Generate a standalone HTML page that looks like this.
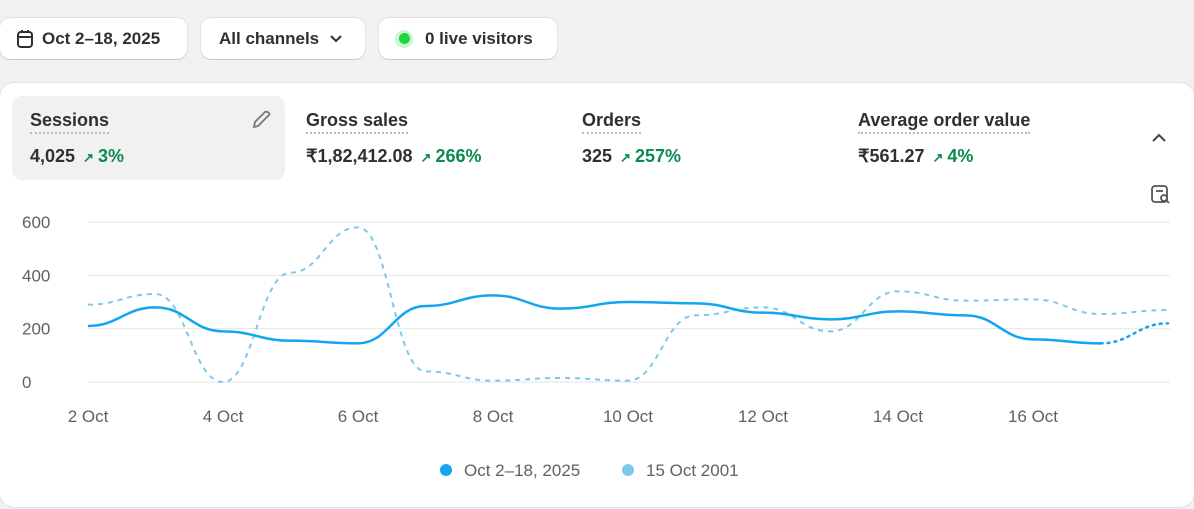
<!DOCTYPE html>
<html><head><meta charset="utf-8"><style>
*{box-sizing:border-box;margin:0;padding:0}
body{width:1194px;height:509px;background:#f1f1f1;font-family:"Liberation Sans",sans-serif;color:#303030;position:relative;overflow:hidden}
.btn{position:absolute;top:18px;height:41px;background:#fff;border-radius:10px;box-shadow:0 1px 0 #c8c8c8,0 0 0 1px #e3e3e3;font-size:17px;font-weight:bold;display:flex;align-items:center;padding-left:16px}
.card{position:absolute;left:0;top:83px;width:1194px;height:424px;background:#fff;border-radius:14px;box-shadow:0 0 0 1px #e3e3e3}
.tab{position:absolute;top:13px;height:84px}
.tab .t{position:absolute;left:18px;top:14px;font-size:18px;font-weight:bold;color:#303030;border-bottom:2px dotted #bbb;padding-bottom:1px}
.tab .v{position:absolute;left:18px;top:50px;font-size:18px;font-weight:bold;white-space:nowrap}
.up{color:#0c8a4f;font-weight:bold;margin-left:8px}
.up small{font-size:13px;margin-right:4px}
</style></head><body>
<div class="btn" style="left:0;width:187px">
<svg width="18" height="20" viewBox="0 0 18 20" style="margin-right:8px"><rect x="2" y="3" width="14" height="15" rx="3" fill="none" stroke="#303030" stroke-width="2"/><line x1="2" y1="8" x2="16" y2="8" stroke="#303030" stroke-width="2"/><line x1="6" y1="1" x2="6" y2="4" stroke="#303030" stroke-width="2"/><line x1="12" y1="1" x2="12" y2="4" stroke="#303030" stroke-width="2"/></svg>Oct 2–18, 2025</div>
<div class="btn" style="left:201px;width:164px;padding-left:18px">All channels<svg width="14" height="10" style="margin-left:10px"><path d="M2 2 L7 7 L12 2" fill="none" stroke="#303030" stroke-width="2"/></svg></div>
<div class="btn" style="left:379px;width:178px"><span style="width:18px;height:18px;border-radius:50%;background:#c9f5d5;display:inline-flex;align-items:center;justify-content:center;margin-right:12px"><span style="width:11px;height:11px;border-radius:50%;background:#22d63a"></span></span>0 live visitors</div>
<div class="card">
<div class="tab" style="left:12px;width:273px;background:#f1f1f1;border-radius:10px"><span class="t">Sessions</span><span class="v">4,025<span class="up"><small>↗</small>3%</span></span>
<svg width="22" height="22" viewBox="0 0 22 22" style="position:absolute;left:238px;top:13px"><path d="M4 18 L5 13 L15 3 Q17 2 19 4 Q20 6 18 7 L8 17 Z" fill="none" stroke="#777" stroke-width="1.8"/></svg></div>
<div class="tab" style="left:288px;width:270px"><span class="t">Gross sales</span><span class="v">₹1,82,412.08<span class="up"><small>↗</small>266%</span></span></div>
<div class="tab" style="left:564px;width:270px"><span class="t">Orders</span><span class="v">325<span class="up"><small>↗</small>257%</span></span></div>
<div class="tab" style="left:840px;width:270px"><span class="t">Average order value</span><span class="v">₹561.27<span class="up"><small>↗</small>4%</span></span></div>
<svg width="16" height="10" style="position:absolute;left:1151px;top:50px"><path d="M2 8 L8 2 L14 8" fill="none" stroke="#444" stroke-width="2"/></svg>
<svg width="22" height="22" viewBox="0 0 22 22" style="position:absolute;left:1150px;top:101px"><rect x="2" y="2" width="15" height="16" rx="3" fill="none" stroke="#555" stroke-width="1.8"/><line x1="6" y1="7" x2="13" y2="7" stroke="#555" stroke-width="1.8"/><circle cx="14" cy="14" r="3" fill="#fff" stroke="#555" stroke-width="1.8"/><line x1="16" y1="16" x2="19" y2="19" stroke="#555" stroke-width="1.8"/></svg>
</div>
<svg id="chart" width="1194" height="509" style="position:absolute;left:0;top:0"></svg>
<script>
const days=[2,3,4,5,6,7,8,9,10,11,12,13,14,15,16,17,18];
const tickDays=[2,4,6,8,10,12,14,16];
const yTicks=[0,200,400,600];
const current=[210,280,190,155,145,285,325,275,300,295,260,235,265,250,160,145,220];
const previous=[290,330,0,410,580,40,5,15,5,250,280,190,340,305,310,255,270];
const svg=document.getElementById('chart');
const NS='http://www.w3.org/2000/svg';
const X=d=>88+(d-2)*67.5;
const Y=v=>382-v*(160/600);
function mk(t,a){const e=document.createElementNS(NS,t);for(const k in a)e.setAttribute(k,a[k]);svg.appendChild(e);return e;}
yTicks.forEach(v=>{const l=mk('line',{x1:88,x2:1170,y1:Y(v),y2:Y(v),stroke:'#e6e6e6'});


const t=mk('text',{x:22,y:Y(v)+6,'font-size':17,fill:'#616161','font-family':'Liberation Sans'});t.textContent=v;

});
tickDays.forEach(d=>{const t=mk('text',{x:X(d),y:422,'font-size':17,fill:'#616161','text-anchor':'middle','font-family':'Liberation Sans'});t.textContent=d+' Oct';

});
function path(ds,vs){const p=ds.map((d,i)=>[X(d),Y(vs[i])]);let s='M'+p[0][0]+' '+p[0][1];
for(let i=0;i<p.length-1;i++){const a=p[i],b=p[i+1],dx=(b[0]-a[0])/2.2;s+=` C${a[0]+dx} ${a[1]} ${b[0]-dx} ${b[1]} ${b[0]} ${b[1]}`;}return s;}
const pp=mk('path',{d:path(days,previous),fill:'none',stroke:'#7ec8ea','stroke-width':2,'stroke-dasharray':'5 5'});


const n=days.length;
const cp=mk('path',{d:path(days.slice(0,n-1),current.slice(0,n-1)),fill:'none',stroke:'#13a5ef','stroke-width':2.5});


const cd=mk('path',{d:path(days.slice(n-2),current.slice(n-2)),fill:'none',stroke:'#13a5ef','stroke-width':2.5,'stroke-dasharray':'2 5','stroke-linecap':'round'});


[[446,'#13a5ef','Oct 2–18, 2025','legend-current'],[628,'#7ec8ea','15 Oct 2001','legend-previous']].forEach(([x,c,s,nm])=>{
const ci=mk('circle',{cx:x,cy:470,r:6,fill:c});


const t=mk('text',{x:x+18,y:476,'font-size':17,fill:'#616161','font-family':'Liberation Sans'});t.textContent=s;

});
</script>
</body></html>
